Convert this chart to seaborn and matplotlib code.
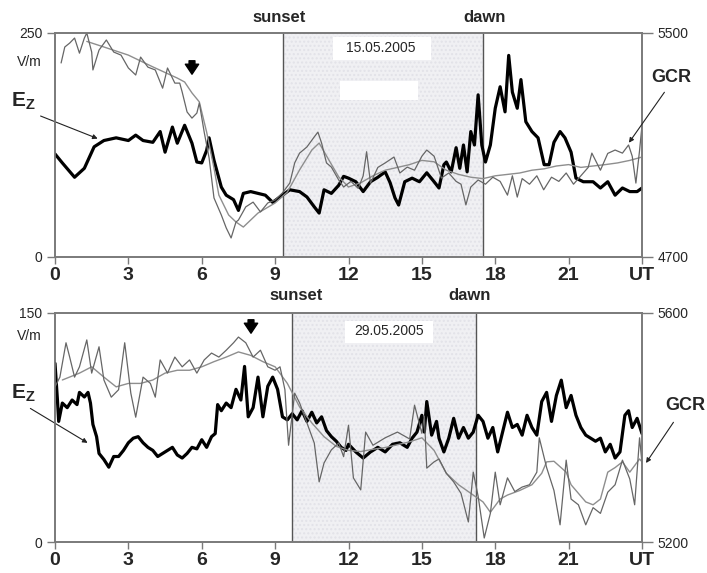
import matplotlib
matplotlib.use("Agg")
import matplotlib.pyplot as plt
from matplotlib.patches import Rectangle, FancyArrowPatch
import pandas as pd
import seaborn as sns

# ---------------- data ----------------
# Top panel: 15.05.2005
top_ez_t = [0, 0.3, 0.8, 1.2, 1.6, 2.0, 2.5, 3.0, 3.3, 3.6, 4.0, 4.3, 4.5, 4.8, 5.0, 5.3, 5.6, 5.8,
            6.0, 6.2, 6.3, 6.5, 6.8, 7.0, 7.3, 7.5, 7.7, 8.0, 8.3, 8.6, 8.9, 9.3, 9.6, 10.0, 10.3,
            10.6, 10.8, 11.0, 11.3, 11.6, 11.8, 12.0, 12.3, 12.6, 12.9, 13.2, 13.5, 13.7, 13.9,
            14.05, 14.3, 14.6, 14.9, 15.2, 15.5, 15.7, 15.9, 16.0, 16.2, 16.4, 16.55, 16.7, 16.85,
            17.0, 17.15, 17.3, 17.45, 17.6, 17.8, 18.0, 18.2, 18.4, 18.55, 18.7, 18.9, 19.05,
            19.25, 19.5, 19.75, 20.0, 20.2, 20.4, 20.65, 20.85, 21.1, 21.3, 21.6, 22.0, 22.3,
            22.6, 22.9, 23.2, 23.5, 23.8, 24.0]
top_ez = [115, 105, 89, 99, 123, 130, 133, 130, 136, 130, 128, 140, 117, 145, 127, 147, 127, 106,
          105, 119, 133, 108, 78, 69, 64, 52, 71, 73, 71, 69, 61, 69, 75, 73, 67,
          56, 49, 75, 71, 80, 90, 88, 84, 73, 84, 89, 95, 83, 66,
          58, 84, 88, 84, 94, 84, 77, 103, 106, 95, 122, 99, 125, 95,
          140, 125, 181, 125, 106, 125, 166, 190, 162, 225, 184, 166, 198,
          151, 140, 133, 103, 103, 128, 140, 133, 117, 88, 84, 84, 77,
          84, 69, 77, 73, 73, 77]

top_gcr1_t = [0.25, 0.4, 0.6, 0.8, 1.0, 1.2, 1.3, 1.5, 1.55, 1.8, 2.1, 2.4, 2.7, 3.0, 3.3, 3.5,
              3.8, 4.1, 4.4, 4.6, 4.9, 5.1, 5.2, 5.4, 5.6, 5.8, 5.9, 6.1, 6.3, 6.5, 6.8, 7.0,
              7.2, 7.4, 7.5, 7.8, 8.1, 8.4, 8.7, 9.0, 9.3, 9.6, 9.8, 10.0, 10.3, 10.6, 10.75,
              10.9, 11.1, 11.3, 11.6, 11.8, 12.1, 12.4, 12.6, 12.74, 12.9, 13.2, 13.5, 13.86,
              14.1, 14.4, 14.7, 15.0, 15.2, 15.5, 15.8, 16.1, 16.4, 16.6, 16.8, 17.0, 17.3,
              17.6, 17.9, 18.2, 18.5, 18.7, 18.9, 19.1, 19.4, 19.7, 19.98, 20.3, 20.6, 20.9,
              21.2, 21.5, 21.8, 21.95, 22.3, 22.6, 22.9, 23.2, 23.45, 23.6, 23.75, 23.9, 24.0]
top_gcr1 = [5393, 5450, 5464, 5482, 5428, 5482, 5500, 5432, 5368, 5439, 5475, 5432, 5421, 5375,
            5350, 5414, 5378, 5368, 5303, 5375, 5321, 5321, 5289, 5218, 5196, 5214, 5250, 5146,
            5054, 4911, 4850, 4804, 4768, 4825, 4832, 4879, 4896, 4861, 4893, 4904, 4929, 4964,
            5036, 5071, 5093, 5129, 5146, 5107, 5036, 5021, 4975, 4950, 4970, 4945, 4990, 5076,
            4964, 5020, 5036, 5057, 5000, 5021, 5010, 5060, 5082, 5060, 4982, 5000, 4970, 4960,
            4886, 4950, 4975, 4960, 4985, 4970, 4921, 4990, 4914, 4980, 4960, 4990, 4940, 4985,
            4970, 5000, 4960, 4990, 5020, 5071, 5010, 5070, 5082, 5071, 5100, 5060, 4964, 5080,
            5170]

top_gcr2_t = [1.3, 2.0, 3.0, 4.0, 5.0, 5.3, 5.6, 5.9, 6.2, 6.5, 6.7, 7.1, 7.4, 7.7, 8.3, 9.0,
              9.5, 10.0, 10.5, 10.8, 11.2, 11.6, 12.0, 12.5, 13.0, 13.5, 14.0, 14.5, 15.0, 15.5,
              16.0, 16.5, 17.0, 17.5, 18.0, 18.5, 19.0, 19.5, 20.0, 20.5, 21.0, 21.5, 22.0,
              22.5, 23.0, 23.5, 24.0]
top_gcr2 = [5470, 5450, 5421, 5379, 5339, 5325, 5286, 5254, 5146, 5018, 4921, 4850, 4825, 4807,
            4857, 4893, 4932, 5011, 5082, 5107, 5046, 4986, 4950, 4965, 4990, 5010, 5020, 5030,
            5045, 5040, 5010, 4995, 4985, 4980, 4990, 4995, 5000, 5010, 5015, 5025, 5030, 5020,
            5025, 5030, 5036, 5045, 5057]

# Bottom panel: 29.05.2005
bot_ez_t = [0, 0.1, 0.15, 0.3, 0.5, 0.7, 0.9, 1.0, 1.2, 1.35, 1.45, 1.55, 1.7, 1.8, 2.0, 2.2,
            2.4, 2.6, 2.8, 3.0, 3.2, 3.4, 3.6, 3.8, 4.0, 4.2, 4.4, 4.6, 4.8, 5.0, 5.2, 5.4, 5.6,
            5.8, 6.0, 6.2, 6.4, 6.55, 6.65, 6.8, 7.0, 7.2, 7.4, 7.6, 7.75, 7.9, 8.1, 8.3, 8.5,
            8.7, 8.9, 9.1, 9.3, 9.5, 9.7, 9.9, 10.1, 10.3, 10.5, 10.7, 10.9, 11.1, 11.3, 11.5,
            11.7, 11.9, 12.0, 12.3, 12.6, 12.9, 13.2, 13.5, 13.8, 14.1, 14.4, 14.6, 14.8, 15.0,
            15.1, 15.2, 15.4, 15.6, 15.7, 15.9, 16.1, 16.3, 16.5, 16.7, 16.9, 17.1, 17.3, 17.5,
            17.7, 17.9, 18.1, 18.3, 18.5, 18.7, 18.9, 19.1, 19.3, 19.5, 19.7, 19.9, 20.1, 20.3,
            20.5, 20.7, 20.9, 21.1, 21.3, 21.5, 21.7, 21.9, 22.1, 22.3, 22.5, 22.7, 22.9, 23.1,
            23.3, 23.45, 23.6, 23.8, 24.0]
bot_ez = [117, 93, 79, 91, 88, 93, 90, 98, 95, 98, 91, 77, 69, 58, 54, 49,
          56, 56, 60, 65, 68, 69, 65, 62, 60, 56, 58, 60, 62, 57, 55, 58, 62,
          61, 67, 62, 69, 71, 90, 86, 91, 88, 100, 93, 115, 82, 88, 108, 82,
          102, 108, 100, 82, 80, 84, 80, 86, 79, 85, 78, 82, 73, 69, 66,
          62, 60, 64, 59, 55, 59, 62, 59, 64, 65, 62, 68, 72, 83,
          72, 92, 70, 79, 68, 59, 68, 81, 68, 75, 68, 72, 83, 79,
          68, 75, 59, 72, 85, 75, 77, 70, 83, 75, 70, 92, 98, 79,
          96, 106, 88, 96, 83, 75, 70, 68, 66, 68, 59, 64, 55, 59,
          83, 86, 75, 81, 71]

bot_gcr1_t = [0, 0.2, 0.45, 0.6, 0.8, 1.0, 1.3, 1.5, 1.8, 2.0, 2.3, 2.6, 2.85, 3.1, 3.3, 3.6,
              3.9, 4.1, 4.3, 4.6, 4.9, 5.2, 5.5, 5.8, 6.1, 6.4, 6.7, 7.0, 7.3, 7.5, 7.8, 8.1,
              8.4, 8.7, 9.0, 9.2, 9.4, 9.55, 9.8, 10.0, 10.3, 10.6, 10.8, 11.0, 11.3, 11.6,
              11.8, 12.0, 12.2, 12.5, 12.7, 13.0, 13.5, 14.0, 14.5, 14.7, 15.0, 15.1, 15.2,
              15.5, 15.7, 16.0, 16.3, 16.6, 16.9, 17.1, 17.3, 17.55, 17.8, 18.0, 18.2, 18.5,
              18.8, 19.1, 19.4, 19.7, 19.8, 20.1, 20.4, 20.65, 20.9, 21.1, 21.4, 21.7, 22.0,
              22.3, 22.6, 22.9, 23.2, 23.5, 23.7, 23.9, 24.0]
bot_gcr1 = [5471, 5488, 5548, 5523, 5488, 5506, 5553, 5495, 5541, 5483, 5453, 5466, 5548, 5460,
            5418, 5488, 5477, 5453, 5518, 5495, 5523, 5506, 5518, 5495, 5518, 5530, 5523, 5535,
            5548, 5558, 5548, 5523, 5535, 5506, 5500, 5506, 5466, 5369, 5460, 5443, 5408, 5373,
            5305, 5338, 5361, 5373, 5349, 5404, 5312, 5291, 5392, 5369, 5382, 5392, 5380, 5439,
            5390, 5420, 5329, 5340, 5345, 5320, 5305, 5285, 5235, 5322, 5280, 5207, 5250, 5322,
            5265, 5312, 5288, 5296, 5300, 5322, 5382, 5330, 5290, 5230, 5343, 5275, 5265, 5230,
            5260, 5250, 5287, 5300, 5343, 5310, 5265, 5382, 5338]

bot_gcr2_t = [0.3, 1.0, 1.5, 2.0, 2.5, 3.0, 3.5, 4.0, 4.5, 5.0, 5.5, 6.0, 6.5, 7.0, 7.5, 8.0,
              8.5, 9.0, 9.5, 10.0, 10.5, 11.0, 11.5, 12.0, 12.5, 13.0, 13.5, 14.0, 14.5, 15.0,
              15.5, 16.0, 16.5, 17.0, 17.5, 17.8, 18.2, 18.5, 19.0, 19.5, 19.9, 20.1, 20.4,
              20.9, 21.1, 21.4, 21.7, 22.0, 22.3, 22.6, 22.9, 23.2, 23.5, 23.9, 24.0]
bot_gcr2 = [5483, 5495, 5506, 5488, 5471, 5477, 5477, 5483, 5495, 5500, 5500, 5506, 5515, 5523,
            5532, 5526, 5515, 5506, 5477, 5436, 5408, 5384, 5367, 5360, 5358, 5362, 5365, 5370,
            5375, 5382, 5360, 5320, 5300, 5285, 5270, 5252, 5275, 5282, 5290, 5300, 5320, 5340,
            5341, 5322, 5300, 5285, 5270, 5265, 5275, 5322, 5330, 5340, 5322, 5345, 5340]

x_ticks = [0, 3, 6, 9, 12, 15, 18, 21, 24]
x_tick_labels = ["0", "3", "6", "9", "12", "15", "18", "21", "UT"]

top_sunset, top_dawn = 9.32, 17.5
bot_sunset, bot_dawn = 9.69, 17.2
top_ez_lim, top_gcr_lim = (0, 250), (4700, 5500)
bot_ez_lim, bot_gcr_lim = (0, 150), (5200, 5600)

# ---------------- style ----------------
sns.set_style("white")
plt.rcParams["font.family"] = ["Liberation Sans", "DejaVu Sans"]
plt.rcParams["mathtext.fontset"] = "custom"
plt.rcParams["mathtext.bf"] = "Liberation Sans:bold"
plt.rcParams["mathtext.rm"] = "Liberation Sans"

W, H = 707, 573
fig = plt.figure(figsize=(W / 100, H / 100), dpi=100)


def rect(x0, y0, x1, y1):
    return [x0 / W, 1 - y1 / H, (x1 - x0) / W, (y1 - y0) / H]


def fp(x, y):
    return (x, H - y)


SPINE = "#7a7a7a"
GRAY1 = "#666666"
GRAY2 = "#8e8e8e"
SHADE = "#f0f0f3"


def make_panel(box, ez_t, ez, g1_t, g1, g2_t, g2, sunset, dawn, ezlim, glim):
    ax = fig.add_axes(rect(*box))
    axr = ax.twinx()
    ax.axvspan(sunset, dawn, facecolor=SHADE, edgecolor="#e2e2e8", hatch="....",
               zorder=0, lw=0)
    for xv in (sunset, dawn):
        ax.axvline(xv, color="#555555", lw=1.0, zorder=1)
    sns.lineplot(data=pd.DataFrame({"t": ez_t, "v": ez}), x="t", y="v", ax=ax,
                 color="black", lw=2.3, estimator=None, sort=False, zorder=3)
    sns.lineplot(data=pd.DataFrame({"t": g2_t, "v": g2}), x="t", y="v", ax=axr,
                 color=GRAY2, lw=1.0, estimator=None, sort=False)
    sns.lineplot(data=pd.DataFrame({"t": g1_t, "v": g1}), x="t", y="v", ax=axr,
                 color=GRAY1, lw=0.9, estimator=None, sort=False)
    ax.set_xlim(0, 24)
    ax.set_ylim(*ezlim)
    axr.set_ylim(*glim)
    ax.set_xticks(x_ticks)
    ax.set_xticklabels(x_tick_labels, fontsize=14, fontweight="bold")
    ax.set_yticks(list(ezlim))
    ax.set_yticklabels([str(v) for v in ezlim], fontsize=10)
    axr.set_yticks(list(glim))
    axr.set_yticklabels([str(v) for v in glim], fontsize=10)
    for a in (ax, axr):
        a.set_xlabel("")
        a.set_ylabel("")
        for s in a.spines.values():
            s.set_color(SPINE)
            s.set_linewidth(1.2)
            s.set_visible(True)
    ax.tick_params(axis="x", direction="out", length=5, width=1, color=SPINE, pad=2, bottom=True)
    ax.tick_params(axis="y", direction="out", length=6, width=1, color=SPINE, pad=3, left=True)
    axr.tick_params(axis="y", direction="out", length=8, width=1, color=SPINE, pad=3, right=True)
    return ax, axr


ax1, ax1r = make_panel((55, 33, 642, 257), top_ez_t, top_ez, top_gcr1_t, top_gcr1,
                       top_gcr2_t, top_gcr2, top_sunset, top_dawn, top_ez_lim, top_gcr_lim)
ax2, ax2r = make_panel((55, 313, 642, 542), bot_ez_t, bot_ez, bot_gcr1_t, bot_gcr1,
                       bot_gcr2_t, bot_gcr2, bot_sunset, bot_dawn, bot_ez_lim, bot_gcr_lim)

# ---------------- annotations ----------------
def ftext(x, y, s, **kw):
    fig.text(x / W, 1 - y / H, s, **kw)


for (y, sx, dx) in ((18, 279, 485), (296, 296, 470)):
    ftext(sx, y, "sunset", ha="center", va="center", fontsize=12, fontweight="bold")
    ftext(dx, y, "dawn", ha="center", va="center", fontsize=12, fontweight="bold")

ftext(42, 62, "V/m", ha="right", va="center", fontsize=10)
ftext(42, 336, "V/m", ha="right", va="center", fontsize=10)

# date boxes
fig.patches.append(Rectangle((333 / W, 1 - 60 / H), 98 / W, 23 / H, transform=fig.transFigure,
                             facecolor="white", edgecolor="none", zorder=2))
fig.patches.append(Rectangle((340 / W, 1 - 100 / H), 78 / W, 19 / H, transform=fig.transFigure,
                             facecolor="white", edgecolor="none", zorder=2))
fig.patches.append(Rectangle((345 / W, 1 - 343 / H), 88 / W, 22 / H, transform=fig.transFigure,
                             facecolor="white", edgecolor="none", zorder=2))
ftext(381, 48, "15.05.2005", ha="center", va="center", fontsize=10, zorder=4)
ftext(389, 331, "29.05.2005", ha="center", va="center", fontsize=10, zorder=4)

arrow_kw = dict(arrowstyle="-|>", lw=0.8, color="#222222", mutation_scale=7)

# E_Z labels with arrows
ez_label = r"$\mathbf{E}_{\mathbf{Z}}$"
ax1.annotate("", xy=(1.85, 131), xycoords="data", xytext=fp(38, 115),
             textcoords="figure pixels", arrowprops=arrow_kw, annotation_clip=False)
ftext(23, 101, ez_label, ha="center", va="center", fontsize=15)
ax2.annotate("", xy=(1.43, 64), xycoords="data", xytext=fp(28, 407),
             textcoords="figure pixels", arrowprops=arrow_kw, annotation_clip=False)
ftext(23, 393, ez_label, ha="center", va="center", fontsize=15)

# GCR labels with arrows
ax1r.annotate("", xy=(23.4, 5100), xycoords="data", xytext=fp(666, 90),
              textcoords="figure pixels", arrowprops=arrow_kw, annotation_clip=False)
ftext(671, 78, "GCR", ha="center", va="center", fontsize=13, fontweight="bold")
ax2r.annotate("", xy=(24.1, 5334), xycoords="data", xytext=fp(675, 420),
              textcoords="figure pixels", arrowprops=arrow_kw, annotation_clip=False)
ftext(685, 406, "GCR", ha="center", va="center", fontsize=13, fontweight="bold")

# down arrows
for (x, y0, y1) in ((192, 58, 77), (251, 317, 336)):
    fig.add_artist(FancyArrowPatch(
        posA=(x / W, 1 - y0 / H), posB=(x / W, 1 - y1 / H), transform=fig.transFigure,
        arrowstyle="simple,head_width=0.8,head_length=0.6,tail_width=0.35",
        mutation_scale=12, color="black"))

fig.savefig("out.png", dpi=100)
